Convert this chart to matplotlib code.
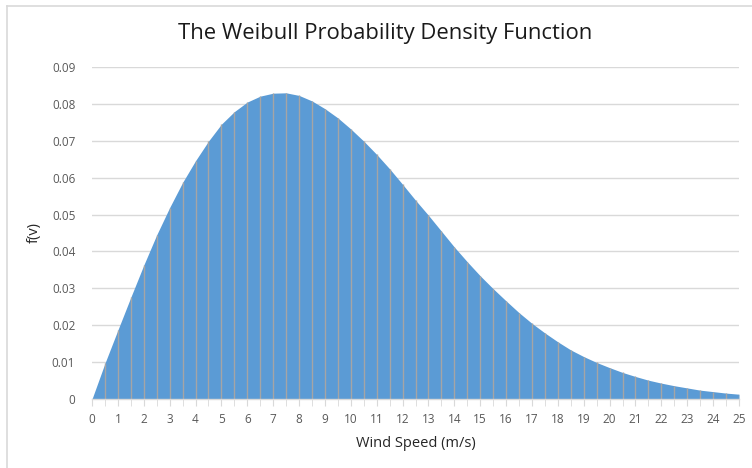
import matplotlib
matplotlib.use("Agg")
import matplotlib.pyplot as plt
from matplotlib.lines import Line2D

# Data
wind_speed = [0, 0.5, 1, 1.5, 2, 2.5, 3, 3.5, 4, 4.5, 5, 5.5, 6, 6.5, 7, 7.5, 8, 8.5, 9, 9.5,
              10, 10.5, 11, 11.5, 12, 12.5, 13, 13.5, 14, 14.5, 15, 15.5, 16, 16.5, 17, 17.5,
              18, 18.5, 19, 19.5, 20, 20.5, 21, 21.5, 22, 22.5, 23, 23.5, 24, 24.5, 25]
density = [0.0, 0.0097, 0.0187, 0.0276, 0.0363, 0.0445, 0.0519, 0.0587, 0.0646, 0.0699,
           0.0745, 0.0779, 0.0805, 0.0821, 0.0829, 0.0830, 0.0823, 0.0808, 0.0787, 0.0762,
           0.0732, 0.0699, 0.0663, 0.0624, 0.0582, 0.0539, 0.0498, 0.0455, 0.0412, 0.0372,
           0.0334, 0.0299, 0.0266, 0.0234, 0.0205, 0.0179, 0.0155, 0.0133, 0.0115, 0.0099,
           0.0085, 0.0072, 0.0061, 0.0051, 0.0043, 0.0036, 0.0030, 0.0024, 0.0020, 0.0016,
           0.0013]
x_ticks = list(range(0, 26))
y_ticks = [0, 0.01, 0.02, 0.03, 0.04, 0.05, 0.06, 0.07, 0.08, 0.09]
y_tick_labels = ["0", "0.01", "0.02", "0.03", "0.04", "0.05", "0.06", "0.07", "0.08", "0.09"]

title = "The Weibull Probability Density Function"
x_label = "Wind Speed (m/s)"
y_label = "f(v)"

plt.rcParams['font.family'] = ['Open Sans', 'DejaVu Sans']

fig = plt.figure(figsize=(7.52, 4.68), dpi=100)
fig.patch.set_facecolor("white")

# chart border: only top and left edges are visible in the reference
fig.add_artist(Line2D([6.5 / 752, 1.0], [1 - 5.5 / 468, 1 - 5.5 / 468],
                      transform=fig.transFigure, color="#d9d9d9", linewidth=1.2))
fig.add_artist(Line2D([6.5 / 752, 6.5 / 752], [0.0, 1 - 5.5 / 468],
                      transform=fig.transFigure, color="#d9d9d9", linewidth=1.2))

ax = fig.add_axes([92 / 752, (468 - 399) / 468, (739 - 92) / 752, (399 - 67) / 468])

ax.fill_between(wind_speed, density, 0, color="#5b9bd5", linewidth=0, zorder=2)
ax.vlines(wind_speed, 0, density, colors="#a5a5a5", linewidth=1.0, zorder=3)

ax.set_xlim(0, 25)
ax.set_ylim(0, 0.09)
ax.set_yticks(y_ticks)
ax.set_yticklabels(y_tick_labels)
ax.set_xticks(x_ticks)
ax.set_xticks(wind_speed, minor=True)
ax.yaxis.grid(True, color="#d9d9d9", linewidth=1.0, zorder=0)
ax.set_axisbelow(True)

for s in ["top", "right", "left"]:
    ax.spines[s].set_visible(False)
ax.spines["bottom"].set_color("#d9d9d9")
ax.spines["bottom"].set_linewidth(1.0)
ax.spines["bottom"].set_zorder(4)

ax.tick_params(axis="y", length=0, labelsize=8.5, labelcolor="#595959", pad=12)
ax.tick_params(axis="x", which="both", length=5, color="#d9d9d9", direction="out",
               labelsize=8.5, labelcolor="#595959", pad=5)
ax.tick_params(axis="x", which="minor", labelbottom=False)

ax.set_xlabel(x_label, fontsize=10.5, color="#262626", labelpad=7)
ax.set_ylabel(y_label, fontsize=10.5, color="#262626", labelpad=7)

fig.text(0.512, 0.928, title, ha="center", va="center", fontsize=15.8, color="#1a1a1a")

fig.savefig("out.png", dpi=100, facecolor="white")
